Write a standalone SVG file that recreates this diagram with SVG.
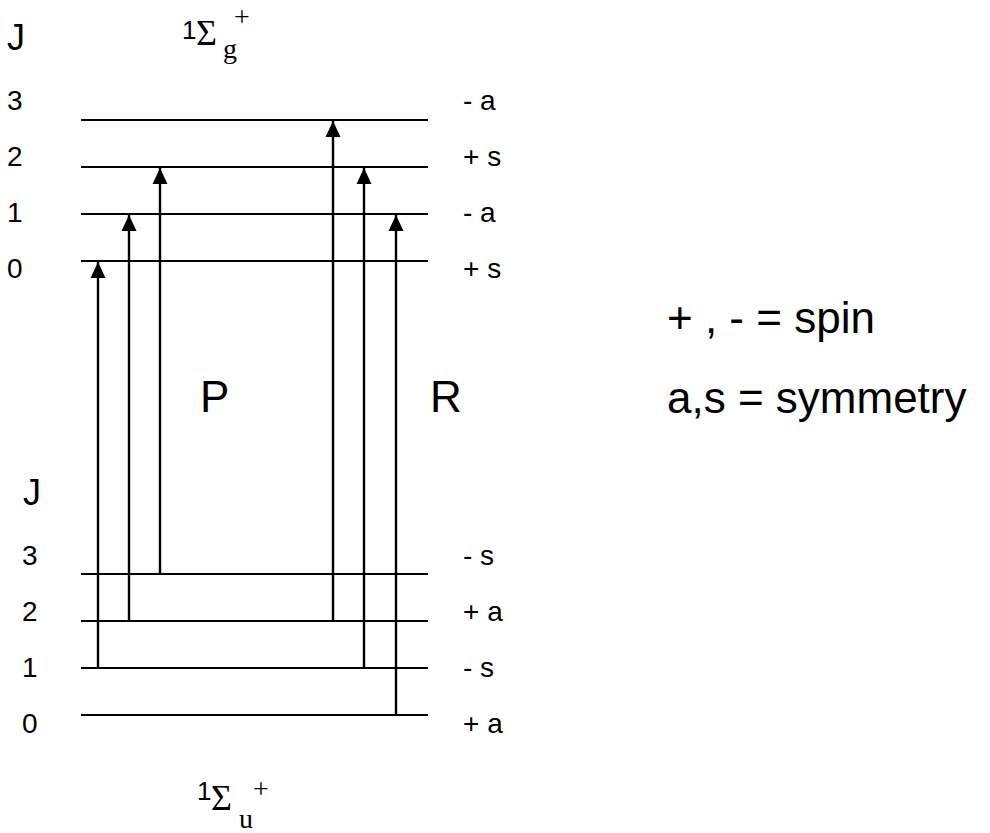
<svg xmlns="http://www.w3.org/2000/svg" width="990" height="833" viewBox="0 0 990 833">
<style>
.lvl{stroke:#000;stroke-width:2;fill:none}
.tr{stroke:#000;stroke-width:2.4;fill:none}
.num{font-family:"Liberation Sans",Arial,sans-serif;font-size:28px;fill:#000}
.jl{font-family:"Liberation Sans",Arial,sans-serif;font-size:36px;fill:#000}
.big{font-family:"Liberation Sans",Arial,sans-serif;font-size:44px;fill:#000}
.one{font-family:"Liberation Sans",Arial,sans-serif;font-size:26px;fill:#000}
.sig{font-family:"Liberation Serif","Times New Roman",serif;font-size:36px;fill:#000}
.sub{font-family:"Liberation Serif","Times New Roman",serif;font-size:28px;fill:#000}
</style>
<defs>
<marker id="up" markerWidth="15" markerHeight="16" refX="7.5" refY="0" orient="0" markerUnits="userSpaceOnUse" viewBox="0 0 15 16" overflow="visible">
<path d="M0,16 L7.5,0 L15,16 Z" fill="#000"/>
</marker>
</defs>
<g id="upper-state">
<text class="jl" x="7" y="50">J</text>
<text class="one" x="182" y="39">1</text>
<text class="sig" x="196" y="45">Σ</text>
<text class="sub" x="223" y="58">g</text>
<text class="sub" x="234" y="26">+</text>
<line class="lvl" x1="81" y1="120" x2="428" y2="120"/>
<line class="lvl" x1="81" y1="167" x2="428" y2="167"/>
<line class="lvl" x1="81" y1="214" x2="428" y2="214"/>
<line class="lvl" x1="81" y1="261" x2="428" y2="261"/>
<text class="num" x="7" y="110">3</text>
<text class="num" x="7" y="166">2</text>
<text class="num" x="7" y="222">1</text>
<text class="num" x="7" y="278">0</text>
<text class="num" x="463" y="110">- a</text>
<text class="num" x="463" y="166">+ s</text>
<text class="num" x="463" y="222">- a</text>
<text class="num" x="463" y="278">+ s</text>
</g>
<g id="lower-state">
<text class="jl" x="23" y="505">J</text>
<line class="lvl" x1="81" y1="574" x2="428" y2="574"/>
<line class="lvl" x1="81" y1="621" x2="428" y2="621"/>
<line class="lvl" x1="81" y1="668" x2="428" y2="668"/>
<line class="lvl" x1="81" y1="715" x2="428" y2="715"/>
<text class="num" x="22" y="565">3</text>
<text class="num" x="22" y="621">2</text>
<text class="num" x="22" y="677">1</text>
<text class="num" x="22" y="733">0</text>
<text class="num" x="463" y="565">- s</text>
<text class="num" x="463" y="621">+ a</text>
<text class="num" x="463" y="677">- s</text>
<text class="num" x="463" y="733">+ a</text>
<text class="one" x="197" y="800">1</text>
<text class="sig" x="211" y="810">Σ</text>
<text class="sub" x="239" y="828">u</text>
<text class="sub" x="253" y="798">+</text>
</g>
<g id="connectors">
<line class="tr" x1="98" y1="668" x2="98" y2="262" marker-end="url(#up)"/>
<line class="tr" x1="129" y1="621" x2="129" y2="215" marker-end="url(#up)"/>
<line class="tr" x1="160" y1="574" x2="160" y2="168" marker-end="url(#up)"/>
<line class="tr" x1="333" y1="621" x2="333" y2="121" marker-end="url(#up)"/>
<line class="tr" x1="364" y1="668" x2="364" y2="168" marker-end="url(#up)"/>
<line class="tr" x1="396" y1="715" x2="396" y2="215" marker-end="url(#up)"/>
</g>
<g id="branch-labels">
<text class="big" x="200" y="412">P</text>
<text class="big" x="430" y="412">R</text>
</g>
<g id="legend">
<text class="big" x="667" y="333">+ , - = spin</text>
<text class="big" x="667" y="413">a,s = symmetry</text>
</g>
</svg>
